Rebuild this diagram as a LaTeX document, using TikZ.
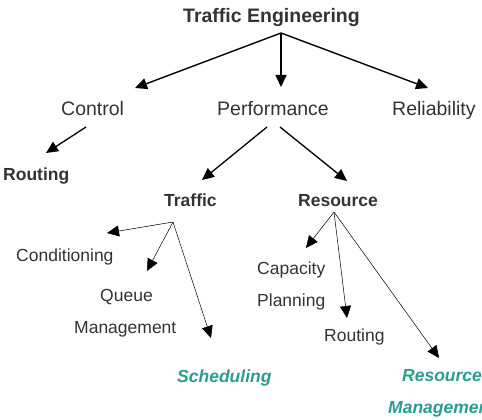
\documentclass[tikz,border=0pt]{standalone}
\usepackage{fontspec}
\setmainfont{Liberation Sans}
\usetikzlibrary{arrows.meta}
\definecolor{txt}{HTML}{333333}
\definecolor{teal2}{HTML}{2A9D8F}
\tikzset{
  big/.style={font=\fontsize{19.5}{22}\selectfont, text=txt, inner sep=0pt, anchor=base west},
  bigb/.style={big, font=\fontsize{19.5}{22}\selectfont\bfseries},
  small/.style={font=\fontsize{17.5}{20}\selectfont, text=txt, inner sep=0pt, anchor=base west},
  smallb/.style={small, font=\fontsize{17.5}{20}\selectfont\bfseries},
  tealb/.style={small, font=\fontsize{17.5}{20}\selectfont\bfseries\itshape, text=teal2},
  arrA/.style={line width=1.4pt, -{Triangle[length=12pt,width=11pt]}},
  arrB/.style={line width=1.3pt, -{Triangle[length=12pt,width=11pt]}},
  arrC/.style={line width=0.5pt, -{Triangle[length=12pt,width=11pt]}},
}
\begin{document}
\begin{tikzpicture}[x=1pt,y=-1pt]
\clip (0,0) rectangle (482,420);
\fill[white] (0,0) rectangle (482,420);
% texts
\node[bigb] (te) at (183,23) {Traffic Engineering};
\node[big] (ctl) at (61,115) {Control};
\node[big] (perf) at (217,115) {Performance};
\node[big] (rel) at (392,115) {Reliability};
\node[smallb] (rout1) at (3,180) {Routing};
\node[smallb] (traf) at (164,206) {Traffic};
\node[smallb] (res) at (298,206) {Resource};
\node[small] (cond) at (16,261) {Conditioning};
\node[small] (queue) at (100,301) {Queue};
\node[small] (qman) at (74,333) {Management};
\node[tealb] (sched) at (177,382) {Scheduling};
\node[small] (cap) at (257,274) {Capacity};
\node[small] (plan) at (257,306) {Planning};
\node[small] (rout2) at (324,341) {Routing};
\node[tealb] (rm1) at (402,381) {Resource};
\node[tealb] (rm2) at (388,413) {Management};
% hubs and tips
\coordinate (teh) at (281,33);
\coordinate (ctlT) at (135,88);
\coordinate (perfT) at (281,87);
\coordinate (relT) at (428,88);
\coordinate (ctlh) at (86,127);
\coordinate (rout1T) at (46,153);
\coordinate (perfhL) at (267,127);
\coordinate (perfhR) at (280,127);
\coordinate (trafT) at (202,180);
\coordinate (resT) at (347,181);
\coordinate (trafh) at (173,222);
\coordinate (condT) at (107,233);
\coordinate (queueT) at (147,271);
\coordinate (schedT) at (211,338);
\coordinate (resh) at (334,212);
\coordinate (capT) at (306,248);
\coordinate (rout2T) at (347,318);
\coordinate (rmT) at (439,358);
% connectors
\draw[arrA] (teh) -- (ctlT);
\draw[arrA] (teh) -- (perfT);
\draw[arrA] (teh) -- (relT);
\draw[arrB] (ctlh) -- (rout1T);
\draw[arrB] (perfhL) -- (trafT);
\draw[arrB] (perfhR) -- (resT);
\draw[arrC] (trafh) -- (condT);
\draw[arrC] (trafh) -- (queueT);
\draw[arrC] (trafh) -- (schedT);
\draw[arrC] (resh) -- (capT);
\draw[arrC] (resh) -- (rout2T);
\draw[arrC] (resh) -- (rmT);
\end{tikzpicture}
\end{document}
